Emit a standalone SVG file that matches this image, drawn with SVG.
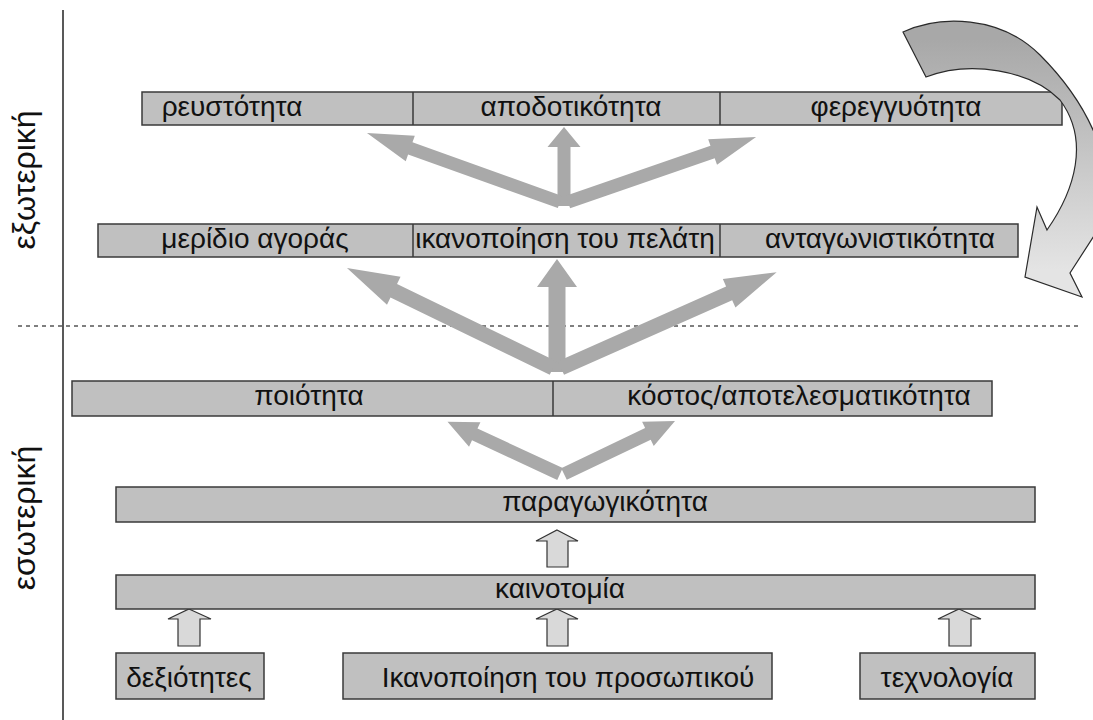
<svg xmlns="http://www.w3.org/2000/svg" width="1093" height="720" viewBox="0 0 1093 720">
<defs>
<linearGradient id="cg" gradientUnits="userSpaceOnUse" x1="0" y1="40" x2="0" y2="270">
<stop offset="0" stop-color="#a8a8a8"/>
<stop offset="1" stop-color="#e4e4e4"/>
</linearGradient>
<style>
.box{fill:#c0c0c0;stroke:#3a3a3a;stroke-width:1.5}
.div{stroke:#3a3a3a;stroke-width:1.5}
.t{font-family:"Liberation Sans",Arial,sans-serif;font-size:28px;fill:#111;text-anchor:middle}
.side{font-family:"Liberation Sans",Arial,sans-serif;font-size:32px;fill:#111;text-anchor:middle}
.big{fill:#a9a9a9;stroke:none}
.small{fill:#d9d9d9;stroke:#333;stroke-width:1.2}
</style>
</defs>
<rect width="1093" height="720" fill="#fff"/>
<g id="frame">
<line x1="63" y1="10" x2="63" y2="720" stroke="#222" stroke-width="1.5"/>
<line x1="18" y1="326" x2="1078" y2="326" stroke="#555" stroke-width="1.5" stroke-dasharray="4,4"/>
<text class="side" transform="translate(35,180) rotate(-90)">εξωτερική</text>
<text class="side" transform="translate(35,518) rotate(-90)">εσωτερική</text>
</g>
<g id="connectors">
<polygon class="big" transform="translate(564,206) rotate(-90)" points="0,-6.5 59,-6.5 59,-16.5 79,0 59,16.5 59,6.5 0,6.5"/>
<polygon class="big" transform="translate(560,202) rotate(-160.33)" points="0,-6.5 159,-6.5 159,-13.5 205,0 159,13.5 159,6.5 0,6.5"/>
<polygon class="big" transform="translate(568,202) rotate(-19.07)" points="0,-6.5 153,-6.5 153,-13.5 199,0 153,13.5 153,6.5 0,6.5"/>
<polygon class="big" transform="translate(557,372) rotate(-90)" points="0,-8.5 85,-8.5 85,-20 113,0 85,20 85,8.5 0,8.5"/>
<polygon class="big" transform="translate(553,368) rotate(-154.11)" points="0,-7.5 177,-7.5 177,-15.5 229,0 177,15.5 177,7.5 0,7.5"/>
<polygon class="big" transform="translate(561,368) rotate(-23.96)" points="0,-7.5 184,-7.5 184,-15.5 236,0 184,15.5 184,7.5 0,7.5"/>
<polygon class="big" transform="translate(560,474) rotate(-155.1)" points="0,-6.5 94,-6.5 94,-13.5 124,0 94,13.5 94,6.5 0,6.5"/>
<polygon class="big" transform="translate(564,474) rotate(-25.52)" points="0,-6.5 93,-6.5 93,-13.5 123,0 93,13.5 93,6.5 0,6.5"/>
<polygon class="small" points="557,530 578,541 568,541 568,567 547,567 547,541 536,541"/>
<polygon class="small" points="189,609 211,619 200,619 200,646 178,646 178,619 168,619"/>
<polygon class="small" points="557,609 578,619 568,619 568,646 547,646 547,619 536,619"/>
<polygon class="small" points="959,609 981,619 971,619 971,646 949,646 949,619 938,619"/>
</g>
<g id="row1">
<rect class="box" x="142" y="92" width="920" height="33"/>
<line class="div" x1="413" y1="92" x2="413" y2="125"/>
<line class="div" x1="720" y1="92" x2="720" y2="125"/>
<text class="t" x="232" y="116">ρευστότητα</text>
<text class="t" x="571" y="116">αποδοτικότητα</text>
<text class="t" x="896" y="116">φερεγγυότητα</text>
</g>
<g id="row2">
<rect class="box" x="98" y="224" width="920" height="33"/>
<line class="div" x1="413" y1="224" x2="413" y2="257"/>
<line class="div" x1="720" y1="224" x2="720" y2="257"/>
<text class="t" x="255" y="248">μερίδιο αγοράς</text>
<text class="t" x="565" y="248">ικανοποίηση του πελάτη</text>
<text class="t" x="880" y="248">ανταγωνιστικότητα</text>
</g>
<g id="curved-arrow">
<path d="M903,32 C940,15 1000,15 1040,55 C1075,90 1100,130 1108,180 L1108,214 L1070,273 L1082,297 L1025,277 L1037,207 L1047,230 C1075,190 1090,140 1060,100 C1030,70 970,60 926,77 Z" fill="url(#cg)" stroke="#2a2a2a" stroke-width="1.2"/>
</g>
<g id="row3">
<rect class="box" x="72" y="381" width="920" height="35"/>
<line class="div" x1="553" y1="381" x2="553" y2="416"/>
<text class="t" x="309" y="405">ποιότητα</text>
<text class="t" x="799" y="405">κόστος/αποτελεσματικότητα</text>
</g>
<g id="paragogikotita">
<rect class="box" x="116" y="487" width="919" height="35"/>
<text class="t" x="605" y="511">παραγωγικότητα</text>
</g>
<g id="kainotomia">
<rect class="box" x="116" y="575" width="919" height="34"/>
<text class="t" x="560" y="598">καινοτομία</text>
</g>
<g id="dexiotites">
<rect class="box" x="116" y="653" width="148" height="46"/>
<text class="t" x="189" y="687">δεξιότητες</text>
</g>
<g id="ikanopoiisi">
<rect class="box" x="343" y="653" width="429" height="46"/>
<text class="t" x="568" y="687">Ικανοποίηση του προσωπικού</text>
</g>
<g id="technologia">
<rect class="box" x="860" y="653" width="175" height="46"/>
<text class="t" x="947" y="687">τεχνολογία</text>
</g>
</svg>
